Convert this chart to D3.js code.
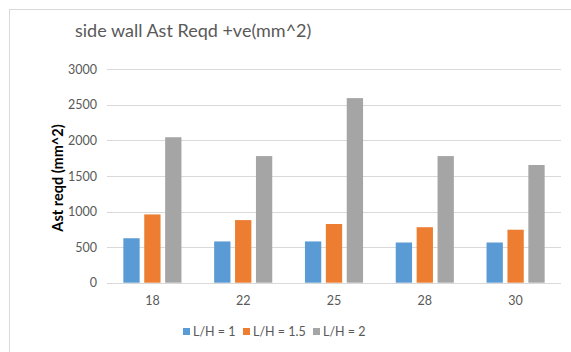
<!DOCTYPE html>
<html>
<head>
<meta charset="utf-8">
<script src="https://cdn.jsdelivr.net/npm/d3@7"></script>
<style>
  html, body { margin: 0; padding: 0; background: #fff; }
  svg { display: block; font-family: Lato, "Open Sans", "Liberation Sans", sans-serif; }
</style>
</head>
<body>
<svg id="chart" width="571" height="352"></svg>
<script>
// Span categories and the three L/H series
const categories = ["18", "22", "25", "28", "30"];
const seriesNames = ["L/H = 1", "L/H = 1.5", "L/H = 2"];
const lh1 = [625, 580, 580, 565, 565];
const lh15 = [960, 880, 825, 780, 745];
const lh2 = [2045, 1780, 2595, 1780, 1655];
const yTicks = [0, 500, 1000, 1500, 2000, 2500, 3000];
const colors = ["#5b9bd5", "#ed7d31", "#a5a5a5"];

const seriesValues = [lh1, lh15, lh2];
const svg = d3.select("#chart");
const W = 571, H = 352;

// chart frame
svg.append("rect").attr("x", 9.5).attr("y", 9.5).attr("width", W).attr("height", H)
  .attr("fill", "#fff").attr("stroke", "#d9d9d9").attr("stroke-width", 1);

const plot = { left: 107, right: 561, top: 69.3, bottom: 282.7 };

const x0 = d3.scaleBand().domain(categories).range([plot.left, plot.right]).paddingInner(0.36).paddingOuter(0.18);
const x1 = d3.scaleBand().domain(seriesNames).range([0, x0.bandwidth()]).paddingInner(0.22);
const y = d3.scaleLinear().domain([0, 3000]).range([plot.bottom, plot.top]);

// gridlines
svg.append("g").selectAll("line").data(yTicks).join("line")
  .attr("x1", plot.left).attr("x2", plot.right)
  .attr("y1", d => Math.round(y(d)) + 0.5).attr("y2", d => Math.round(y(d)) + 0.5)
  .attr("stroke", "#d9d9d9").attr("stroke-width", 1);

// y axis labels
const yAxis = d3.axisLeft(y).tickValues(yTicks).tickFormat(d3.format("d")).tickSize(0).tickPadding(10);
const gy = svg.append("g").attr("transform", `translate(${plot.left},0)`).call(yAxis);
gy.select(".domain").remove();
gy.selectAll("text").attr("fill", "#595959").style("font-size", "12.5px")
  .style("font-family", "Lato, 'Open Sans', sans-serif");

// x axis labels
const xAxis = d3.axisBottom(x0).tickSize(0).tickPadding(13);
const gx = svg.append("g").attr("transform", `translate(0,${plot.bottom})`).call(xAxis);
gx.select(".domain").remove();
gx.selectAll("text").attr("fill", "#595959").style("font-size", "12.5px")
  .style("font-family", "Lato, 'Open Sans', sans-serif");

// bars
const groups = svg.append("g").selectAll("g").data(categories).join("g")
  .attr("transform", d => `translate(${x0(d)},0)`);
groups.selectAll("rect").data((c, i) => seriesNames.map((s, k) => ({ s, k, v: seriesValues[k][i] })))
  .join("rect")
  .attr("x", d => x1(d.s))
  .attr("width", x1.bandwidth())
  .attr("y", d => y(d.v))
  .attr("height", d => y(0) - y(d.v))
  .attr("fill", d => colors[d.k]);

// title
svg.append("text").attr("x", 75).attr("y", 37)
  .attr("fill", "#595959").style("font-size", "18px")
  .text("side wall Ast Reqd +ve(mm^2)");

// y axis title
svg.append("text")
  .attr("transform", `translate(63,178) rotate(-90)`)
  .attr("text-anchor", "middle").attr("fill", "#000")
  .style("font-size", "14.5px").style("font-weight", "bold")
  .text("Ast reqd (mm^2)");

// legend
const legendX = [183, 243, 313];
const lg = svg.append("g").selectAll("g").data(seriesNames).join("g")
  .attr("transform", (d, i) => `translate(${legendX[i]},328)`);
lg.append("rect").attr("width", 7).attr("height", 7).attr("y", 0).attr("fill", (d, i) => colors[i]);
lg.append("text").attr("x", 10).attr("y", 8).attr("fill", "#595959")
  .style("font-size", "12.5px").text(d => d);
</script>
</body>
</html>
